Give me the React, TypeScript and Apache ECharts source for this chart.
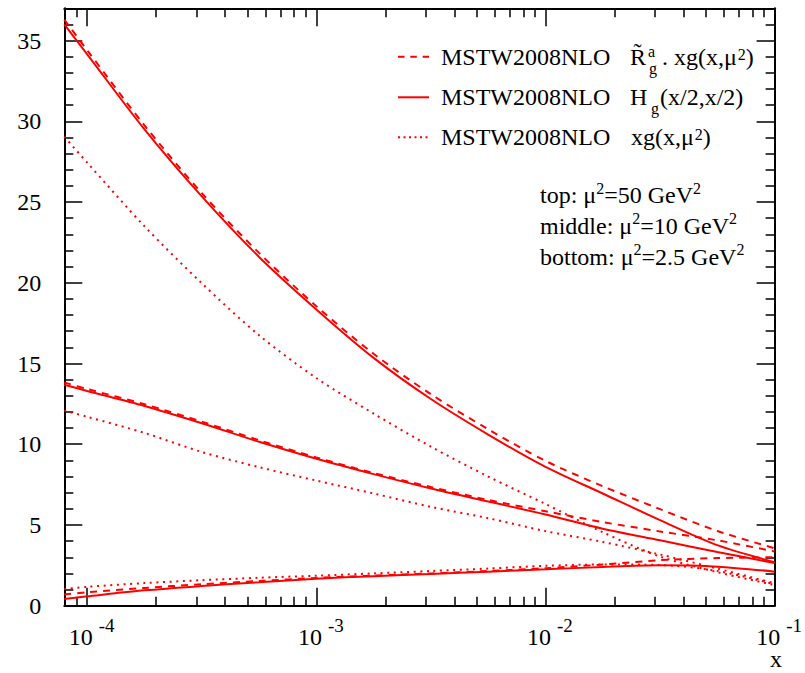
import React, { useEffect, useRef } from "react";
import * as echarts from "echarts";

// Sampling points along the x axis, given as log10(x)
const log10x = [-4.1, -4, -3.75, -3.5, -3.25, -3, -2.75, -2.5, -2.25, -2, -1.75, -1.5, -1.25, -1];

// mu^2 = 50 GeV^2 (top)
const topRxg = [36.3, 34.4, 29.75, 25.55, 21.85, 18.55, 15.6, 13.1, 10.93, 8.97, 7.4, 5.98, 4.63, 3.56];
const topHg = [36.0, 34.15, 29.5, 25.35, 21.6, 18.35, 15.35, 12.8, 10.6, 8.6, 6.95, 5.3, 3.75, 2.7];
const topXg = [29.05, 27.44, 23.5, 19.97, 16.75, 14.1, 11.9, 9.85, 8.0, 6.3, 4.55, 3.04, 2.08, 1.28];

// mu^2 = 10 GeV^2 (middle)
const midRxg = [13.82, 13.42, 12.48, 11.4, 10.25, 9.18, 8.22, 7.35, 6.55, 5.85, 5.18, 4.6, 4.05, 3.36];
const midHg = [13.68, 13.3, 12.37, 11.3, 10.15, 9.1, 8.15, 7.26, 6.45, 5.65, 4.77, 4.05, 3.33, 2.64];
const midXg = [12.08, 11.7, 10.7, 9.52, 8.58, 7.75, 6.95, 6.12, 5.42, 4.62, 3.95, 3.17, 2.3, 1.39];

// mu^2 = 2.5 GeV^2 (bottom)
const botRxg = [0.7, 0.83, 1.1, 1.33, 1.53, 1.72, 1.87, 2.0, 2.15, 2.32, 2.55, 2.82, 2.95, 3.0];
const botHg = [0.42, 0.58, 0.95, 1.22, 1.45, 1.67, 1.83, 1.97, 2.11, 2.25, 2.4, 2.5, 2.42, 2.11];
const botXg = [1.03, 1.17, 1.4, 1.58, 1.73, 1.86, 2.0, 2.15, 2.3, 2.47, 2.55, 2.52, 2.15, 1.33];

// Axis ticks
const xMajor = [-4, -3, -2, -1];
const xDecades = [-5, -4, -3, -2];
const xMultipliers = [2, 3, 4, 5, 6, 7, 8, 9];
const yMajor = [0, 5, 10, 15, 20, 25, 30, 35];
const yTickStep = 1;

const X_MIN = -4.1;
const X_MAX = -1;
const Y_MIN = 0;
const Y_MAX = 37;

const FONT = '"Liberation Serif", "Times New Roman", serif';
const RED = "#ff0000";
const INK = "#000000";
const DASH = [7, 6];
const DOT = [2, 4.6];

const xMinor = xDecades
  .flatMap((e) => xMultipliers.map((k) => e + Math.log10(k)))
  .filter((v) => v > X_MIN && v < X_MAX);

const yMinor: number[] = [];
for (let v = Y_MIN + yTickStep; v < Y_MAX; v += yTickStep) {
  if (!yMajor.includes(v)) yMinor.push(v);
}

const pairs = (ys: number[]) => log10x.map((x, i) => [x, ys[i]]);

const curve = (name: string, ys: number[], type: "solid" | number[]) => ({
  name,
  type: "line",
  xAxisIndex: 0,
  yAxisIndex: 0,
  data: pairs(ys),
  smooth: 0.3,
  showSymbol: false,
  symbol: "none",
  clip: true,
  lineStyle: { color: RED, width: 2, type },
  z: 3,
});

// text piece placed by its alphabetic baseline
const piece = (x: number, baseline: number, text: string, size: number) => ({
  type: "text",
  x,
  y: baseline - 0.3375 * size,
  style: {
    text,
    fontSize: size,
    fontFamily: FONT,
    fill: INK,
    align: "left",
    verticalAlign: "middle",
  },
});

// legend text with a small raised "2" following the mu
const withSquare = (x: number, baseline: number, before: string, after: string) => ({
  type: "text",
  x,
  y: baseline - 18.4,
  style: {
    text: `{m|${before}}{s|2}{m|${after}}`,
    align: "left",
    verticalAlign: "top",
    rich: {
      m: { fontSize: 24, lineHeight: 20.6, fontFamily: FONT, fill: INK },
      s: { fontSize: 16, lineHeight: 16, verticalAlign: "top", fontFamily: FONT, fill: INK, padding: [0, 0, 0, 1] },
    },
  },
});

const legendLine = (y: number, dash: number[] | null) => ({
  type: "line",
  shape: { x1: 398, y1: y, x2: 429, y2: y },
  style: { stroke: RED, lineWidth: 2, lineDash: dash || undefined },
});

const infoLine = (top: number, head: string, value: string) => ({
  type: "text",
  x: 540,
  y: top,
  style: {
    text: `{m|${head} μ}{s|2}{m|=${value} GeV}{s|2}`,
    align: "left",
    verticalAlign: "top",
    rich: {
      m: { fontSize: 24, lineHeight: 30, fontFamily: FONT, fill: INK },
      s: { fontSize: 16, lineHeight: 16, verticalAlign: "top", fontFamily: FONT, fill: INK },
    },
  },
});

const axisLineStyle = { color: INK, width: 2 };
const tickStyle = { color: INK, width: 1.5 };

const xBase = { type: "value", min: X_MIN, max: X_MAX, splitLine: { show: false } };
const yBase = { type: "value", min: Y_MIN, max: Y_MAX, splitLine: { show: false } };

const option = {
  animation: false,
  backgroundColor: "#ffffff",
  grid: { left: 64.3, right: 23.3, top: 8.3, bottom: 67.3, containLabel: false },
  xAxis: [
    {
      ...xBase,
      position: "bottom",
      axisLine: { show: true, onZero: false, lineStyle: axisLineStyle },
      axisTick: { show: true, inside: true, length: 18, customValues: xMajor, lineStyle: tickStyle },
      axisLabel: {
        show: true,
        customValues: xMajor,
        margin: 10,
        formatter: (v: number) => `{b|10}{s|${Math.round(v)}}`,
        rich: {
          b: { fontSize: 24, lineHeight: 42, fontFamily: FONT, color: INK, padding: [0, 0, 0, 9] },
          s: { fontSize: 19, lineHeight: 19, verticalAlign: "top", fontFamily: FONT, color: INK, padding: [0, 0, 0, 6] },
        },
      },
    },
    {
      ...xBase,
      position: "bottom",
      axisLine: { show: false, onZero: false },
      axisTick: { show: true, inside: true, length: 9, customValues: xMinor, lineStyle: tickStyle },
      axisLabel: { show: false },
    },
    {
      ...xBase,
      position: "top",
      axisLine: { show: true, onZero: false, lineStyle: axisLineStyle },
      axisTick: { show: true, inside: true, length: 18, customValues: xMajor, lineStyle: tickStyle },
      axisLabel: { show: false },
    },
    {
      ...xBase,
      position: "top",
      axisLine: { show: false, onZero: false },
      axisTick: { show: true, inside: true, length: 9, customValues: xMinor, lineStyle: tickStyle },
      axisLabel: { show: false },
    },
  ],
  yAxis: [
    {
      ...yBase,
      position: "left",
      axisLine: { show: true, onZero: false, lineStyle: axisLineStyle },
      axisTick: { show: true, inside: true, length: 18, customValues: yMajor, lineStyle: tickStyle },
      axisLabel: {
        show: true,
        customValues: yMajor,
        margin: 23,
        fontSize: 24,
        fontFamily: FONT,
        color: INK,
      },
    },
    {
      ...yBase,
      position: "left",
      axisLine: { show: false, onZero: false },
      axisTick: { show: true, inside: true, length: 9, customValues: yMinor, lineStyle: tickStyle },
      axisLabel: { show: false },
    },
    {
      ...yBase,
      position: "right",
      axisLine: { show: true, onZero: false, lineStyle: axisLineStyle },
      axisTick: { show: true, inside: true, length: 18, customValues: yMajor, lineStyle: tickStyle },
      axisLabel: { show: false },
    },
    {
      ...yBase,
      position: "right",
      axisLine: { show: false, onZero: false },
      axisTick: { show: true, inside: true, length: 9, customValues: yMinor, lineStyle: tickStyle },
      axisLabel: { show: false },
    },
  ],
  series: [
    curve("top R·xg", topRxg, DASH),
    curve("top Hg", topHg, "solid"),
    curve("top xg", topXg, DOT),
    curve("middle R·xg", midRxg, DASH),
    curve("middle Hg", midHg, "solid"),
    curve("middle xg", midXg, DOT),
    curve("bottom R·xg", botRxg, DASH),
    curve("bottom Hg", botHg, "solid"),
    curve("bottom xg", botXg, DOT),
  ],
  graphic: [
    // legend
    legendLine(56.7, [6.5, 5.8]),
    legendLine(97.3, null),
    legendLine(137.3, [2, 3.5]),

    piece(441, 65, "MSTW2008NLO", 24),
    piece(630, 65, "R\u0303", 24),
    piece(648, 56.7, "a", 16),
    piece(649, 74, "g", 16),
    withSquare(662, 65, ". xg(x,μ", ")"),

    piece(441, 105.5, "MSTW2008NLO", 24),
    piece(630, 105.5, "H", 24),
    piece(651, 113.5, "g", 16),
    piece(660, 105.5, "(x/2,x/2)", 24),

    piece(441, 145, "MSTW2008NLO", 24),
    withSquare(631, 145, "xg(x,μ", ")"),

    // scale annotations
    infoLine(180.2, "top:", "50"),
    infoLine(210.9, "middle:", "10"),
    infoLine(241.9, "bottom:", "2.5"),

    // x axis title
    {
      type: "text",
      x: 782,
      y: 667 - 0.3375 * 24,
      style: { text: "x", fontSize: 24, fontFamily: FONT, fill: INK, align: "right", verticalAlign: "middle" },
    },
  ],
};

export default function App() {
  const ref = useRef<HTMLDivElement>(null);
  useEffect(() => {
    if (!ref.current) return;
    const chart = echarts.init(ref.current, null, { renderer: "svg" });
    chart.setOption(option as any);
    return () => chart.dispose();
  }, []);
  return (
    <div
      ref={ref}
      style={{ position: "fixed", left: 0, top: 0, width: 805, height: 673, background: "#ffffff" }}
    />
  );
}
